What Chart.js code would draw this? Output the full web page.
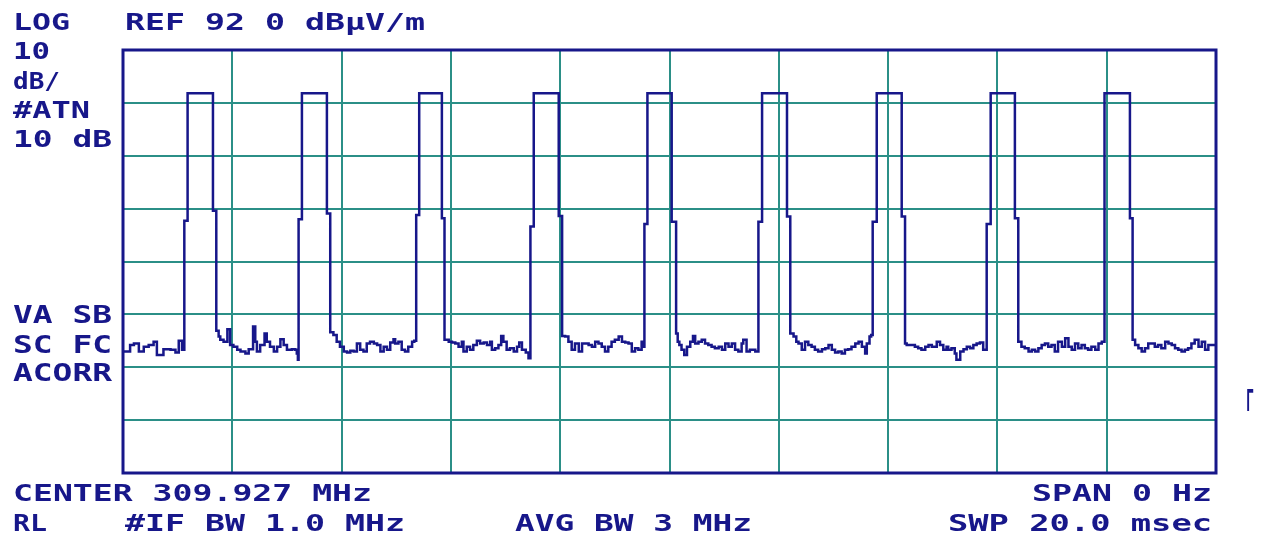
<!DOCTYPE html>
<html>
<head>
<meta charset="utf-8">
<title>Pulse train, zero span</title>
<script src="https://cdn.jsdelivr.net/npm/chart.js@4.4.1/dist/chart.umd.min.js"></script>
<style>
  html, body { margin: 0; padding: 0; background: #ffffff; }
  #wrap { width: 1263px; height: 536px; position: relative; }
</style>
</head>
<body>
<div id="wrap"><canvas id="trace" width="1263" height="536"></canvas></div>
<script>
// sweep time (ms) and level (dBuV/m)
var traceTime = [
    0.00, 0.13, 0.20, 0.29, 0.38, 0.47, 0.56, 0.62, 0.74, 0.87, 0.96, 1.02, 1.08,
    1.122, 1.182, 1.646, 1.707,
    1.75, 1.78, 1.84, 1.91, 1.96, 2.02, 2.09, 2.15, 2.24, 2.30, 2.38, 2.42, 2.45, 2.51, 2.59, 2.63,
    2.69, 2.76, 2.82, 2.88, 2.94, 3.00, 3.09, 3.15, 3.18, 3.20,
    3.213, 3.274, 3.731, 3.792,
    3.85, 3.91, 3.97, 4.04, 4.10, 4.16, 4.22, 4.28, 4.34, 4.40, 4.46, 4.52, 4.59, 4.65, 4.71, 4.77,
    4.83, 4.89, 4.95, 4.98, 5.04, 5.10, 5.16, 5.22, 5.29, 5.33,
    5.365, 5.420, 5.835, 5.883,
    5.96, 6.02, 6.08, 6.14, 6.20, 6.23, 6.29, 6.35, 6.41, 6.475, 6.535, 6.60, 6.66, 6.72, 6.75, 6.81,
    6.87, 6.92, 6.96, 7.02, 7.08, 7.15, 7.21, 7.25, 7.30, 7.37, 7.42,
    7.455, 7.516, 7.973, 8.035,
    8.09, 8.15, 8.21, 8.27, 8.34, 8.40, 8.52, 8.58, 8.64, 8.70, 8.76, 8.82, 8.88, 8.94, 9.00, 9.07,
    9.13, 9.19, 9.25, 9.31, 9.37, 9.43, 9.49, 9.52,
    9.541, 9.596, 10.04, 10.121,
    10.15, 10.18, 10.22, 10.27, 10.32, 10.38, 10.43, 10.47, 10.53, 10.59, 10.65, 10.71, 10.77, 10.83,
    10.90, 10.96, 11.02, 11.08, 11.14, 11.20, 11.26, 11.32, 11.35, 11.41, 11.47, 11.57,
    11.627, 11.694, 12.15, 12.21,
    12.27, 12.32, 12.36, 12.42, 12.48, 12.54, 12.60, 12.66, 12.72, 12.79, 12.85, 12.91, 12.97, 13.03,
    13.09, 13.15, 13.21, 13.27, 13.33, 13.40, 13.46, 13.52, 13.58, 13.61, 13.66, 13.69,
    13.718, 13.792, 14.249, 14.31,
    14.34, 14.49, 14.55, 14.61, 14.68, 14.74, 14.80, 14.89, 14.95, 15.01, 15.07, 15.10, 15.16, 15.22,
    15.25, 15.32, 15.38, 15.44, 15.50, 15.56, 15.62, 15.68, 15.74,
    15.804, 15.877, 16.32, 16.382,
    16.44, 16.50, 16.57, 16.63, 16.69, 16.75, 16.81, 16.87, 16.93, 16.99, 17.05, 17.11, 17.18, 17.24,
    17.30, 17.36, 17.42, 17.48, 17.54, 17.60, 17.66, 17.72, 17.79, 17.85, 17.91,
    17.96, 18.425, 18.474,
    18.52, 18.58, 18.64, 18.70, 18.76, 18.88, 18.94, 19.00, 19.07, 19.13, 19.19, 19.25, 19.31, 19.37,
    19.43, 19.49, 19.55, 19.61, 19.68, 19.74, 19.80, 19.86, 20.00
];
var traceLevel = [
    35.0, 36.2, 36.5, 35.0, 35.9, 36.2, 36.8, 34.3, 35.4, 35.3, 34.8, 37.0, 35.3,
    59.7, 83.8, 61.6, 38.9,
    37.8, 37.2, 36.8, 39.2, 36.2, 35.9, 35.3, 35.0, 34.6, 35.4, 39.7, 36.8, 35.0, 36.2, 38.4, 36.8,
    35.9, 35.0, 35.9, 37.3, 36.2, 35.3, 35.4, 35.3, 34.6, 33.4,
    60.0, 83.8, 61.1, 38.6,
    38.1, 36.8, 35.9, 35.0, 34.8, 35.1, 35.0, 36.5, 35.3, 35.0, 36.5, 36.8, 36.5, 36.2, 35.0, 35.9,
    35.3, 36.7, 37.3, 36.5, 36.8, 35.3, 35.0, 35.9, 36.8, 37.0,
    60.8, 83.8, 60.2, 37.2,
    36.8, 36.7, 36.5, 35.9, 36.8, 35.0, 35.9, 35.3, 36.2, 37.0, 36.5, 36.7, 36.2, 36.8, 35.3, 35.6,
    36.2, 37.9, 36.8, 35.3, 35.6, 35.0, 35.9, 36.7, 35.3, 34.8, 33.7,
    58.6, 83.8, 60.6, 37.9,
    37.8, 36.8, 35.3, 36.5, 35.0, 36.5, 36.2, 35.9, 36.8, 36.5, 35.9, 35.0, 35.9, 36.8, 37.2, 37.8,
    36.8, 36.7, 36.5, 35.0, 35.6, 35.3, 36.8, 35.9,
    59.1, 83.8, 59.5, 38.4,
    36.8, 36.2, 35.3, 34.3, 35.9, 36.8, 37.9, 36.5, 36.8, 37.2, 36.5, 36.2, 35.9, 35.6,
    35.9, 35.3, 36.5, 35.9, 36.5, 35.3, 35.0, 36.5, 37.2, 35.0, 35.3, 35.0,
    59.5, 83.8, 60.5, 38.4,
    37.8, 36.8, 36.5, 35.3, 36.8, 36.2, 35.9, 35.3, 35.0, 35.4, 35.6, 36.2, 35.3, 34.8,
    35.0, 34.6, 35.3, 35.4, 35.9, 36.5, 36.8, 35.9, 34.6, 36.5, 37.8, 38.1,
    59.5, 83.8, 60.5, 36.5,
    36.2, 35.9, 35.6, 35.3, 35.9, 36.2, 35.9, 36.8, 36.2, 35.3, 35.9, 35.3, 35.6, 34.6,
    33.4, 35.0, 35.4, 35.9, 35.6, 36.2, 36.5, 36.7, 35.3,
    59.1, 83.8, 60.2, 36.8,
    35.9, 35.6, 35.0, 35.3, 35.0, 35.6, 36.2, 36.5, 35.9, 36.2, 35.0, 36.8, 35.9, 37.5,
    35.9, 35.3, 36.5, 35.6, 36.2, 35.6, 35.3, 35.9, 35.3, 36.5, 36.8,
    83.8, 60.2, 37.2,
    36.2, 35.6, 35.0, 35.6, 36.5, 35.9, 36.2, 35.6, 36.8, 36.5, 36.2, 35.6, 35.3, 35.0,
    35.3, 35.6, 36.5, 37.2, 35.9, 36.8, 35.3, 36.2, 36.2
];

// screen: 2 ms/div across, REF 92 dBuV/m at top, 10 dB/div down
var sweepMs = [0, 20];
var levelRange = [12, 92];

var screenLines = [
    'LOG', 'REF 92 0 dB\u03bcV/m', '10', 'dB/', '#ATN', '10 dB',
    'VA SB', 'SC FC', 'ACORR',
    'CENTER 309.927 MHz', 'RL', '#IF BW 1.0 MHz', 'AVG BW 3 MHz',
    'SPAN 0 Hz', 'SWP 20.0 msec', '\u0393'
];
// left, bottom (baseline), width, cap height -- one per screen line
var lineBoxes = [
    [13, 30, 57, 17], [125, 30, 300, 17], [13, 59, 37, 17], [13, 89, 47, 17], [13, 118, 77, 17], [13, 147, 99, 17],
    [13, 323, 99, 18], [13, 353, 99, 18], [13, 381, 99, 18],
    [13, 501, 359, 17], [13, 531, 34, 17], [125, 531, 280, 17], [515, 531, 237, 17],
    [1032, 501, 180, 17], [948, 531, 264, 17], [1246, 411, 8, 22]
];

var INK = '#17178a';
var GRID = '#2b8f87';

var screenText = {
    id: 'screenText',
    afterDraw: function (chart) {
        var ctx = chart.ctx;
        var area = chart.chartArea;
        ctx.save();
        // frame around the graticule
        ctx.strokeStyle = INK;
        ctx.lineWidth = 3;
        ctx.strokeRect(area.left, area.top, area.right - area.left, area.bottom - area.top);

        ctx.fillStyle = INK;
        ctx.textBaseline = 'alphabetic';
        screenLines.forEach(function (txt, i) {
            var b = lineBoxes[i];
            var size = b[3] / 0.73;
            ctx.font = 'bold ' + size + 'px "DejaVu Sans Mono"';
            var w = ctx.measureText(txt).width;
            ctx.save();
            ctx.translate(b[0], b[1]);
            ctx.scale(b[2] / w, 1);
            ctx.fillText(txt, 0, 0);
            ctx.restore();
        });
        ctx.restore();
    }
};

var points = traceTime.map(function (t, i) { return { x: t, y: traceLevel[i] }; });

var chart = new Chart(document.getElementById('trace').getContext('2d'), {
    type: 'line',
    data: {
        datasets: [{
            data: points,
            borderColor: INK,
            borderWidth: 2.5,
            stepped: 'before',
            pointRadius: 0,
            fill: false
        }]
    },
    options: {
        responsive: false,
        animation: false,
        layout: { padding: { left: 123, right: 47, top: 50, bottom: 63 } },
        plugins: { legend: { display: false }, tooltip: { enabled: false } },
        scales: {
            x: {
                type: 'linear',
                min: sweepMs[0],
                max: sweepMs[1],
                ticks: { display: false, stepSize: 2 },
                grid: { color: GRID, lineWidth: 2, drawTicks: false },
                border: { display: false }
            },
            y: {
                min: levelRange[0],
                max: levelRange[1],
                ticks: { display: false, stepSize: 10 },
                grid: { color: GRID, lineWidth: 2, drawTicks: false },
                border: { display: false }
            }
        }
    },
    plugins: [screenText]
});
</script>
</body>
</html>
